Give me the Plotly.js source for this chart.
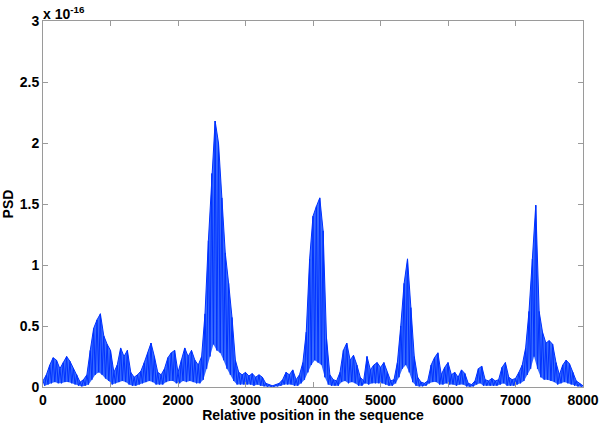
<!DOCTYPE html>
<html>
<head>
<meta charset="utf-8">
<script src="https://cdn.plot.ly/plotly-3.0.1.min.js"></script>
<style>html,body{margin:0;padding:0;background:#fff;}#chart{width:600px;height:423px;}</style>
</head>
<body>
<div id="chart"></div>
<script>
// PSD values in units of 1e-16
// Local maxima, sampled at positions 0, 50, 100, ..., 8000
const peakValues = [
 0.05,0.10,0.18,0.24,0.22,0.15,0.20,0.25,0.21,0.15,
 0.10,0.04,0.06,0.10,0.30,0.48,0.55,0.60,0.42,0.35,
 0.30,0.12,0.18,0.32,0.25,0.30,0.12,0.08,0.10,0.13,
 0.20,0.28,0.36,0.25,0.12,0.10,0.15,0.24,0.28,0.30,
 0.12,0.22,0.32,0.25,0.30,0.22,0.18,0.25,0.60,1.20,
 1.75,2.18,2.00,1.55,1.10,0.85,0.57,0.22,0.12,0.10,
 0.12,0.09,0.11,0.08,0.10,0.08,0.03,0.02,0.01,0.02,
 0.03,0.06,0.12,0.10,0.14,0.06,0.10,0.20,0.45,1.05,
 1.40,1.48,1.55,1.28,0.40,0.10,0.06,0.05,0.12,0.30,
 0.36,0.22,0.26,0.18,0.08,0.05,0.25,0.14,0.18,0.20,
 0.16,0.20,0.12,0.05,0.06,0.20,0.50,0.85,1.05,0.65,
 0.25,0.08,0.04,0.03,0.05,0.18,0.24,0.28,0.10,0.16,
 0.20,0.10,0.12,0.08,0.14,0.11,0.03,0.02,0.05,0.15,
 0.17,0.06,0.05,0.07,0.05,0.06,0.16,0.20,0.08,0.06,
 0.07,0.12,0.18,0.32,0.62,1.05,1.49,0.62,0.45,0.36,
 0.38,0.35,0.20,0.10,0.18,0.22,0.19,0.12,0.05,0.03,
 0.01
];
// Local minima, sampled at positions 25, 75, ..., 7975
const troughValues = [
 0.01,0.02,0.03,0.04,0.03,0.03,0.04,0.04,0.03,0.02,
 0.01,0.005,0.01,0.02,0.06,0.10,0.12,0.10,0.07,0.05,
 0.02,0.03,0.04,0.05,0.04,0.02,0.01,0.01,0.02,0.03,
 0.04,0.05,0.04,0.02,0.02,0.02,0.04,0.05,0.05,0.03,
 0.03,0.05,0.04,0.05,0.04,0.03,0.03,0.06,0.15,0.25,
 0.35,0.30,0.28,0.22,0.15,0.10,0.05,0.02,0.02,0.02,
 0.02,0.02,0.01,0.02,0.01,0.005,0.002,0.002,0.002,0.005,
 0.01,0.02,0.02,0.02,0.01,0.01,0.03,0.06,0.12,0.18,
 0.22,0.20,0.18,0.08,0.02,0.01,0.01,0.01,0.04,0.05,
 0.03,0.04,0.03,0.01,0.01,0.03,0.02,0.03,0.03,0.03,
 0.03,0.02,0.01,0.01,0.03,0.08,0.15,0.18,0.12,0.04,
 0.01,0.005,0.005,0.01,0.03,0.04,0.04,0.02,0.02,0.03,
 0.02,0.02,0.01,0.02,0.02,0.005,0.002,0.005,0.02,0.03,
 0.01,0.01,0.01,0.01,0.01,0.02,0.03,0.01,0.01,0.01,
 0.02,0.03,0.05,0.10,0.15,0.25,0.15,0.08,0.06,0.06,
 0.05,0.04,0.02,0.03,0.04,0.03,0.02,0.01,0.005,0.002
];
const sampleSpacing = 50;
const xTickVals = [0,1000,2000,3000,4000,5000,6000,7000,8000];
const xTickText = ["0","1000","2000","3000","4000","5000","6000","7000","8000"];
const yTickVals = [0,0.5,1,1.5,2,2.5,3];
const yTickText = ["0","0.5","1","1.5","2","2.5","3"];

const peakX = peakValues.map((v, i) => i * sampleSpacing);
const troughX = troughValues.map((v, i) => i * sampleSpacing + sampleSpacing / 2);

// interleave maxima and minima into one oscillating trace
const xs = [], ys = [];
for (let i = 0; i < peakValues.length; i++) {
  xs.push(peakX[i]); ys.push(peakValues[i]);
  if (i < troughValues.length) { xs.push(troughX[i]); ys.push(troughValues[i]); }
}

const blue = "rgb(0,50,255)";
const font = {family: "Arial, 'Liberation Sans', sans-serif", size: 14, color: "#000"};
const axisCommon = {
  showgrid: false, zeroline: false, showline: true, linecolor: "#9a9a9a", linewidth: 1,
  mirror: "ticks", ticks: "inside", ticklen: 5, tickcolor: "#9a9a9a",
  tickfont: {family: font.family, size: 14, color: "#000", weight: "bold"}
};

Plotly.newPlot("chart", [
  {x: troughX, y: troughValues, type: "scatter", mode: "lines",
   line: {color: "rgba(0,0,0,0)", width: 0}, hoverinfo: "none"},
  {x: peakX, y: peakValues, type: "scatter", mode: "lines", fill: "tonexty",
   fillcolor: "rgba(20,80,255,0.85)", line: {color: blue, width: 1}, hoverinfo: "none"},
  {x: xs, y: ys, type: "scatter", mode: "lines",
   line: {color: blue, width: 1}, hoverinfo: "none"}
], {
  width: 600, height: 423,
  margin: {l: 43, r: 17, t: 21, b: 36},
  paper_bgcolor: "#fff", plot_bgcolor: "#fff",
  showlegend: false,
  font: font,
  xaxis: Object.assign({}, axisCommon, {
    range: [0, 8000], tickvals: xTickVals, ticktext: xTickText,
    title: {text: "Relative position in the sequence", standoff: 2,
            font: {family: font.family, size: 14, color: "#000", weight: "bold"}}
  }),
  yaxis: Object.assign({}, axisCommon, {
    range: [0, 3], tickvals: yTickVals, ticktext: yTickText,
    title: {text: "PSD", standoff: 5,
            font: {family: font.family, size: 14, color: "#000", weight: "bold"}}
  }),
  annotations: [{
    xref: "paper", yref: "paper", x: 0, y: 1, xanchor: "left", yanchor: "bottom",
    xshift: -2, yshift: -3,
    text: "<b>x 10<sup>-16</sup></b>", showarrow: false,
    font: {family: font.family, size: 14, color: "#000"}
  }]
}, {staticPlot: true});
</script>
</body>
</html>
